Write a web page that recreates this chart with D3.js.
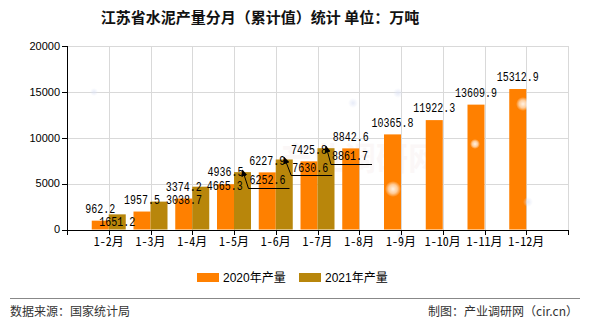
<!DOCTYPE html>
<html>
<head>
<meta charset="utf-8">
<script src="https://cdn.jsdelivr.net/npm/d3@7/dist/d3.min.js"></script>
<style>
  html, body { margin: 0; padding: 0; background: #fff; }
  svg { display: block; }
</style>
</head>
<body>
<svg id="chart" width="590" height="330"></svg>
<script>
// ---- data ----
const categories = ["1-2月","1-3月","1-4月","1-5月","1-6月","1-7月","1-8月","1-9月","1-10月","1-11月","1-12月"];
const series2020 = [962.2, 1957.5, 3374.2, 4936.5, 6227.9, 7425.8, 8842.6, 10365.8, 11922.3, 13609.9, 15312.9];
const series2021 = [1651.2, 3038.7, 4665.3, 6252.6, 7630.6, 8861.7];
const yTicks = [0, 5000, 10000, 15000, 20000];
const seriesNames = ["2020年产量", "2021年产量"];
const titleText = "江苏省水泥产量分月（累计值）统计 单位：万吨";
const sourceText = "数据来源：国家统计局";
const creditText = "制图：产业调研网（cir.cn）";

// label layout adjustments for the 2021 labels (px shift from default spot) and leader lines
const label2021Shift = [[0, 19], [25, 10], [24, 11], [25, 20], [26, 20], [24, 20]];
const label2021Leader = [false, false, false, true, true, true];

// ---- drawing ----
(function () {
const svg = d3.select("#chart");
const colors = ["#FF8000", "#B8860B"];
const pL = 67, pR = 568, pT = 46, pB = 229.5;
const step = (pR - pL) / (categories.length + 1);

const x = d3.scalePoint().domain(categories).range([pL + step, pR - step]);
const y = d3.scaleLinear().domain([0, 20000]).range([pB, pT]);
const barW = 17;

const defs = svg.append("defs");
defs.append("marker").attr("id", "arrow").attr("viewBox", "0 0 10 10")
  .attr("refX", 9).attr("refY", 5).attr("markerWidth", 7).attr("markerHeight", 7)
  .attr("markerUnits", "userSpaceOnUse")
  .attr("orient", "auto-start-reverse")
  .append("path").attr("d", "M0,0.5 L10,5 L0,9.5 Z").attr("fill", "#000");
const glow = defs.append("radialGradient").attr("id", "glow");
glow.append("stop").attr("offset", "0%").attr("stop-color", "#fff").attr("stop-opacity", 0.9);
glow.append("stop").attr("offset", "55%").attr("stop-color", "#fff").attr("stop-opacity", 0.6);
glow.append("stop").attr("offset", "100%").attr("stop-color", "#fff").attr("stop-opacity", 0);
const glowB = defs.append("radialGradient").attr("id", "glowB");
glowB.append("stop").attr("offset", "0%").attr("stop-color", "#dde3f5").attr("stop-opacity", 0.7);
glowB.append("stop").attr("offset", "100%").attr("stop-color", "#dde3f5").attr("stop-opacity", 0);

// title
svg.append("text").attr("x", 260).attr("y", 23).attr("text-anchor", "middle")
  .attr("font-family", "'Noto Sans CJK SC', sans-serif").attr("font-size", 15).attr("font-weight", "bold")
  .attr("fill", "#111").text(titleText);

// grid
const grid = svg.append("g").attr("stroke", "#d9d9d9").attr("stroke-width", 1).attr("shape-rendering", "crispEdges");
yTicks.filter(t => t > 0).forEach(t => {
  grid.append("line").attr("x1", pL).attr("x2", pR).attr("y1", Math.round(y(t)) + 0.5).attr("y2", Math.round(y(t)) + 0.5);
});
categories.forEach(c => {
  const xv = Math.round(x(c)) + 0.5;
  grid.append("line").attr("x1", xv).attr("x2", xv).attr("y1", pT).attr("y2", pB);
});
grid.append("line").attr("x1", pR + 0.5).attr("x2", pR + 0.5).attr("y1", pT).attr("y2", pB);

// watermark
svg.append("text").attr("x", 360).attr("y", 170).attr("text-anchor", "middle")
  .attr("font-family", "'Noto Sans CJK SC', sans-serif").attr("font-size", 32).attr("font-weight", "bold")
  .attr("fill", "#e9cccc").attr("opacity", 0.15).text("产业调研网");

// bars
const bars = svg.append("g");
bars.selectAll("rect.s0").data(series2020).join("rect").attr("class", "s0")
  .attr("x", (d, i) => x(categories[i]) - barW).attr("y", d => y(d))
  .attr("width", barW).attr("height", d => pB - y(d)).attr("fill", colors[0]);
bars.selectAll("rect.s1").data(series2021).join("rect").attr("class", "s1")
  .attr("x", (d, i) => x(categories[i])).attr("y", d => y(d))
  .attr("width", barW).attr("height", d => pB - y(d)).attr("fill", colors[1]);

// bokeh decoration
[[393, 189, 8, "glow"], [475, 144, 5, "glow"], [523, 104, 7, "glow"], [353, 103, 5, "glowB"],
 [398, 93, 5, "glowB"], [528, 202, 5, "glowB"], [401, 236, 5, "glowB"], [94, 92, 4, "glowB"]]
  .forEach(([cx, cy, r, g]) => svg.append("circle").attr("cx", cx).attr("cy", cy).attr("r", r).attr("fill", `url(#${g})`));

// axes
const ax = svg.append("g").attr("stroke", "#000").attr("stroke-width", 1).attr("shape-rendering", "crispEdges");
ax.append("line").attr("x1", pL + 0.5).attr("x2", pL + 0.5).attr("y1", pT).attr("y2", pB + 0.5);
ax.append("line").attr("x1", pL).attr("x2", pR + 1).attr("y1", pB + 0.5).attr("y2", pB + 0.5);
yTicks.forEach(t => {
  const yy = Math.round(y(t)) + 0.5;
  ax.append("line").attr("x1", pL - 5).attr("x2", pL).attr("y1", yy).attr("y2", yy);
});
[pL, ...categories.map(c => x(c)), pR].forEach(xv => {
  const xx = Math.round(xv) + 0.5;
  ax.append("line").attr("x1", xx).attr("x2", xx).attr("y1", pB).attr("y2", pB + 5);
});
svg.append("g").selectAll("text").data(yTicks).join("text")
  .attr("x", pL - 7).attr("y", d => y(d)).attr("dy", "0.35em").attr("text-anchor", "end")
  .attr("font-family", "'Liberation Sans', Arial, sans-serif").attr("font-size", 11).attr("fill", "#000")
  .text(d => d);
svg.append("g").selectAll("text").data(categories).join("text")
  .attr("x", d => x(d)).attr("y", 246).attr("text-anchor", "middle")
  .attr("font-family", "'Noto Sans Mono CJK SC', 'Liberation Mono', 'Noto Sans CJK SC', monospace").attr("font-size", 12).attr("fill", "#000")
  .text(d => d);

// value labels (12px monospace, narrowed to 6px per character)
const lblFont = "'Liberation Mono', 'DejaVu Sans Mono', monospace";
const label = (g, txt, lx, ly) => {
  const t = g.append("text")
    .attr("dy", "0.35em")
    .attr("text-anchor", "middle").attr("font-family", lblFont).attr("font-size", 12).attr("fill", "#000")
    .text(txt);
  const len = t.node().getComputedTextLength();
  const sx = len > 0 ? Math.min(1, (txt.length * 6) / len) : 1;
  t.attr("transform", `translate(${lx},${ly}) scale(${sx},1)`);
  return t;
};

const g20 = svg.append("g");
series2020.forEach((d, i) => label(g20, d.toFixed(1), x(categories[i]) - barW / 2, y(d) - 12));

const g21 = svg.append("g");
series2021.forEach((d, i) => {
  const ax0 = x(categories[i]) + barW / 2, ay0 = y(d);
  const lx = ax0 + label2021Shift[i][0], ly = ay0 - 12 + label2021Shift[i][1];
  const txt = d.toFixed(1);
  label(g21, txt, lx, ly);
  if (label2021Leader[i]) {
    const w = txt.length * 6;
    const ly2 = Math.round(ly + 8) + 0.5;
    g21.append("path")
      .attr("d", `M${lx + w / 2 + 4},${ly2} L${lx - w / 2 - 1},${ly2} L${ax0},${ay0 - 2}`)
      .attr("fill", "none").attr("stroke", "#000").attr("stroke-width", 1)
      .attr("marker-end", "url(#arrow)");
  }
});

// legend
const lg = svg.append("g");
[[197, 0], [299, 1]].forEach(([lx, i]) => {
  lg.append("rect").attr("x", lx).attr("y", 273).attr("width", 22).attr("height", 9).attr("fill", colors[i]);
  lg.append("text").attr("x", lx + 26).attr("y", 277.5).attr("dy", "0.35em")
    .attr("font-family", "'Liberation Sans', 'Noto Sans CJK SC', sans-serif").attr("font-size", 12).attr("fill", "#000")
    .text(seriesNames[i]);
});

// footer
svg.append("line").attr("x1", 10).attr("x2", 580).attr("y1", 298.5).attr("y2", 298.5)
  .attr("stroke", "#888").attr("stroke-width", 1);
svg.append("text").attr("x", 10).attr("y", 316)
  .attr("font-family", "'Noto Sans CJK SC', sans-serif").attr("font-size", 12).attr("fill", "#333").text(sourceText);
svg.append("text").attr("x", 578).attr("y", 316).attr("text-anchor", "end")
  .attr("font-family", "'Noto Sans CJK SC', sans-serif").attr("font-size", 12).attr("fill", "#333").text(creditText);
})();
</script>
</body>
</html>
